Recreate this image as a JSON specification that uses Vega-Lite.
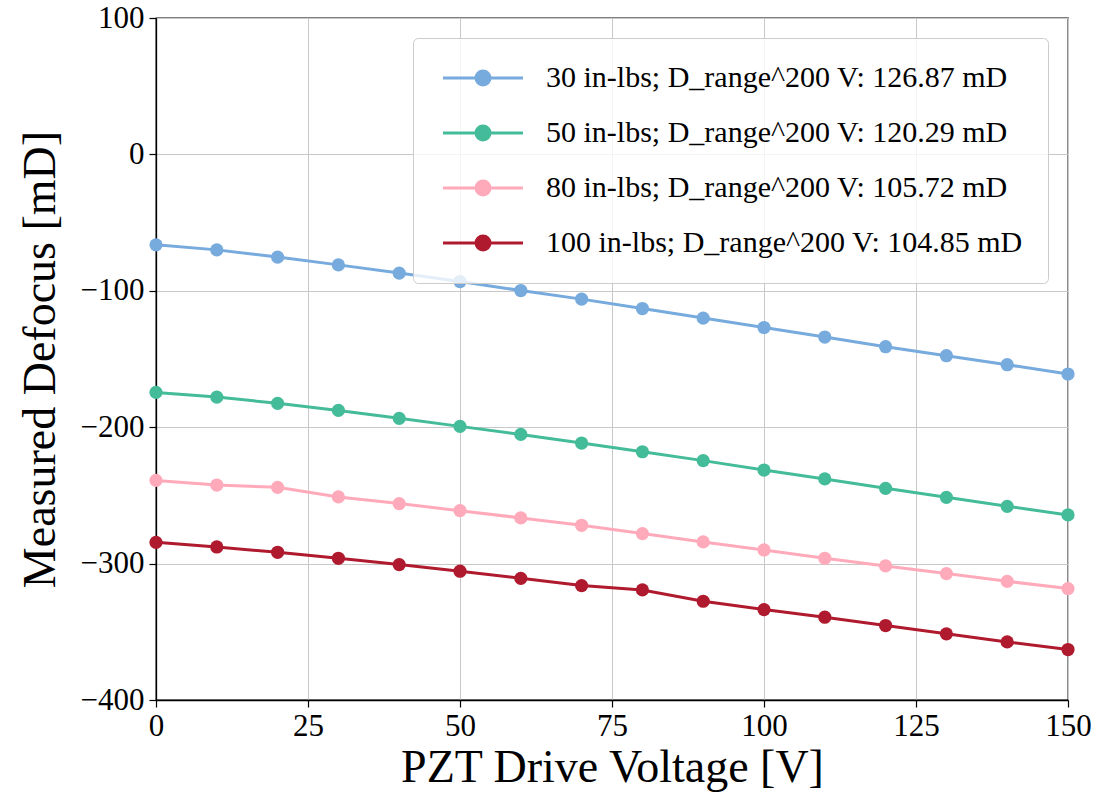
{
  "$schema": "https://vega.github.io/schema/vega-lite/v6.json",
  "autosize": {"type": "none"},
  "padding": {"left": 156, "top": 18, "right": 31, "bottom": 97},
  "width": 912,
  "height": 682,
  "background": "white",
  "config": {
    "font": "Liberation Serif",
    "view": {"stroke": "black", "strokeWidth": 1.3},
    "axis": {
      "labelFont": "Liberation Serif",
      "titleFont": "Liberation Serif",
      "labelFontSize": 31,
      "titleFontSize": 46,
      "titleFontWeight": "normal",
      "labelColor": "black",
      "titleColor": "black",
      "domainColor": "black",
      "domainWidth": 1.3,
      "tickColor": "black",
      "tickSize": 7,
      "tickWidth": 1.2,
      "gridColor": "#c8c8c8",
      "gridWidth": 1
    }
  },
  "data": {
    "values": [
      {"v": 0, "d": -66.3, "s": "30 in-lbs; D_range^200 V: 126.87 mD"},
      {"v": 10, "d": -70.0, "s": "30 in-lbs; D_range^200 V: 126.87 mD"},
      {"v": 20, "d": -75.3, "s": "30 in-lbs; D_range^200 V: 126.87 mD"},
      {"v": 30, "d": -81.0, "s": "30 in-lbs; D_range^200 V: 126.87 mD"},
      {"v": 40, "d": -87.0, "s": "30 in-lbs; D_range^200 V: 126.87 mD"},
      {"v": 50, "d": -93.2, "s": "30 in-lbs; D_range^200 V: 126.87 mD"},
      {"v": 60, "d": -99.8, "s": "30 in-lbs; D_range^200 V: 126.87 mD"},
      {"v": 70, "d": -106.1, "s": "30 in-lbs; D_range^200 V: 126.87 mD"},
      {"v": 80, "d": -113.0, "s": "30 in-lbs; D_range^200 V: 126.87 mD"},
      {"v": 90, "d": -120.0, "s": "30 in-lbs; D_range^200 V: 126.87 mD"},
      {"v": 100, "d": -126.9, "s": "30 in-lbs; D_range^200 V: 126.87 mD"},
      {"v": 110, "d": -133.9, "s": "30 in-lbs; D_range^200 V: 126.87 mD"},
      {"v": 120, "d": -141.0, "s": "30 in-lbs; D_range^200 V: 126.87 mD"},
      {"v": 130, "d": -147.6, "s": "30 in-lbs; D_range^200 V: 126.87 mD"},
      {"v": 140, "d": -154.2, "s": "30 in-lbs; D_range^200 V: 126.87 mD"},
      {"v": 150, "d": -161.0, "s": "30 in-lbs; D_range^200 V: 126.87 mD"},
      {"v": 0, "d": -174.5, "s": "50 in-lbs; D_range^200 V: 120.29 mD"},
      {"v": 10, "d": -177.9, "s": "50 in-lbs; D_range^200 V: 120.29 mD"},
      {"v": 20, "d": -182.5, "s": "50 in-lbs; D_range^200 V: 120.29 mD"},
      {"v": 30, "d": -187.7, "s": "50 in-lbs; D_range^200 V: 120.29 mD"},
      {"v": 40, "d": -193.5, "s": "50 in-lbs; D_range^200 V: 120.29 mD"},
      {"v": 50, "d": -199.4, "s": "50 in-lbs; D_range^200 V: 120.29 mD"},
      {"v": 60, "d": -205.3, "s": "50 in-lbs; D_range^200 V: 120.29 mD"},
      {"v": 70, "d": -211.6, "s": "50 in-lbs; D_range^200 V: 120.29 mD"},
      {"v": 80, "d": -218.0, "s": "50 in-lbs; D_range^200 V: 120.29 mD"},
      {"v": 90, "d": -224.5, "s": "50 in-lbs; D_range^200 V: 120.29 mD"},
      {"v": 100, "d": -231.4, "s": "50 in-lbs; D_range^200 V: 120.29 mD"},
      {"v": 110, "d": -237.9, "s": "50 in-lbs; D_range^200 V: 120.29 mD"},
      {"v": 120, "d": -244.8, "s": "50 in-lbs; D_range^200 V: 120.29 mD"},
      {"v": 130, "d": -251.4, "s": "50 in-lbs; D_range^200 V: 120.29 mD"},
      {"v": 140, "d": -258.0, "s": "50 in-lbs; D_range^200 V: 120.29 mD"},
      {"v": 150, "d": -264.3, "s": "50 in-lbs; D_range^200 V: 120.29 mD"},
      {"v": 0, "d": -239.0, "s": "80 in-lbs; D_range^200 V: 105.72 mD"},
      {"v": 10, "d": -242.4, "s": "80 in-lbs; D_range^200 V: 105.72 mD"},
      {"v": 20, "d": -244.1, "s": "80 in-lbs; D_range^200 V: 105.72 mD"},
      {"v": 30, "d": -251.1, "s": "80 in-lbs; D_range^200 V: 105.72 mD"},
      {"v": 40, "d": -256.0, "s": "80 in-lbs; D_range^200 V: 105.72 mD"},
      {"v": 50, "d": -261.2, "s": "80 in-lbs; D_range^200 V: 105.72 mD"},
      {"v": 60, "d": -266.5, "s": "80 in-lbs; D_range^200 V: 105.72 mD"},
      {"v": 70, "d": -271.9, "s": "80 in-lbs; D_range^200 V: 105.72 mD"},
      {"v": 80, "d": -278.0, "s": "80 in-lbs; D_range^200 V: 105.72 mD"},
      {"v": 90, "d": -284.1, "s": "80 in-lbs; D_range^200 V: 105.72 mD"},
      {"v": 100, "d": -290.0, "s": "80 in-lbs; D_range^200 V: 105.72 mD"},
      {"v": 110, "d": -296.1, "s": "80 in-lbs; D_range^200 V: 105.72 mD"},
      {"v": 120, "d": -301.7, "s": "80 in-lbs; D_range^200 V: 105.72 mD"},
      {"v": 130, "d": -307.3, "s": "80 in-lbs; D_range^200 V: 105.72 mD"},
      {"v": 140, "d": -313.0, "s": "80 in-lbs; D_range^200 V: 105.72 mD"},
      {"v": 150, "d": -318.3, "s": "80 in-lbs; D_range^200 V: 105.72 mD"},
      {"v": 0, "d": -284.4, "s": "100 in-lbs; D_range^200 V: 104.85 mD"},
      {"v": 10, "d": -287.8, "s": "100 in-lbs; D_range^200 V: 104.85 mD"},
      {"v": 20, "d": -291.7, "s": "100 in-lbs; D_range^200 V: 104.85 mD"},
      {"v": 30, "d": -296.1, "s": "100 in-lbs; D_range^200 V: 104.85 mD"},
      {"v": 40, "d": -300.7, "s": "100 in-lbs; D_range^200 V: 104.85 mD"},
      {"v": 50, "d": -305.6, "s": "100 in-lbs; D_range^200 V: 104.85 mD"},
      {"v": 60, "d": -310.8, "s": "100 in-lbs; D_range^200 V: 104.85 mD"},
      {"v": 70, "d": -316.1, "s": "100 in-lbs; D_range^200 V: 104.85 mD"},
      {"v": 80, "d": -319.3, "s": "100 in-lbs; D_range^200 V: 104.85 mD"},
      {"v": 90, "d": -327.6, "s": "100 in-lbs; D_range^200 V: 104.85 mD"},
      {"v": 100, "d": -333.7, "s": "100 in-lbs; D_range^200 V: 104.85 mD"},
      {"v": 110, "d": -339.3, "s": "100 in-lbs; D_range^200 V: 104.85 mD"},
      {"v": 120, "d": -345.4, "s": "100 in-lbs; D_range^200 V: 104.85 mD"},
      {"v": 130, "d": -351.5, "s": "100 in-lbs; D_range^200 V: 104.85 mD"},
      {"v": 140, "d": -357.4, "s": "100 in-lbs; D_range^200 V: 104.85 mD"},
      {"v": 150, "d": -363.0, "s": "100 in-lbs; D_range^200 V: 104.85 mD"}
    ]
  },
  "encoding": {
    "x": {
      "field": "v", "type": "quantitative",
      "scale": {"domain": [0, 150], "nice": false, "zero": false},
      "axis": {"values": [0, 25, 50, 75, 100, 125, 150], "title": "PZT Drive Voltage [V]", "labelPadding": 4, "titlePadding": 4, "labelFlush": false}
    },
    "y": {
      "field": "d", "type": "quantitative",
      "scale": {"domain": [-400, 100], "nice": false, "zero": false},
      "axis": {"values": [-400, -300, -200, -100, 0, 100], "title": "Measured Defocus [mD]", "labelPadding": 5, "titlePadding": 16, "labelFlush": false}
    },
    "color": {
      "field": "s", "type": "nominal",
      "scale": {
        "domain": ["30 in-lbs; D_range^200 V: 126.87 mD", "50 in-lbs; D_range^200 V: 120.29 mD", "80 in-lbs; D_range^200 V: 105.72 mD", "100 in-lbs; D_range^200 V: 104.85 mD"],
        "range": ["#77AADD", "#44BB99", "#FFAABB", "#B01A2E"]
      },
      "legend": {
        "title": null,
        "orient": "top-right",
        "offset": 20,
        "labelFont": "Liberation Serif",
        "labelFontSize": 30,
        "labelColor": "black",
        "labelLimit": 800,
        "symbolType": "M-1,0L7,0M3.7,0A0.7,0.7,0,1,1,2.3,0A0.7,0.7,0,1,1,3.7,0Z",
        "symbolSize": 400,
        "symbolStrokeWidth": 3,
        "symbolOpacity": 1,
        "labelOffset": 78,
        "rowPadding": 25,
        "padding": 25,
        "fillColor": "rgba(255,255,255,0.8)",
        "strokeColor": "#cccccc",
        "cornerRadius": 5,
        "encode": {
          "symbols": {"update": {"fill": {"scale": "color", "field": "value"}, "stroke": {"scale": "color", "field": "value"}, "opacity": {"value": 1}}}
        }
      }
    }
  },
  "layer": [
    {"mark": {"type": "line", "strokeWidth": 3}},
    {"mark": {"type": "point", "shape": "circle", "filled": true, "size": 175, "opacity": 1}}
  ]
}
